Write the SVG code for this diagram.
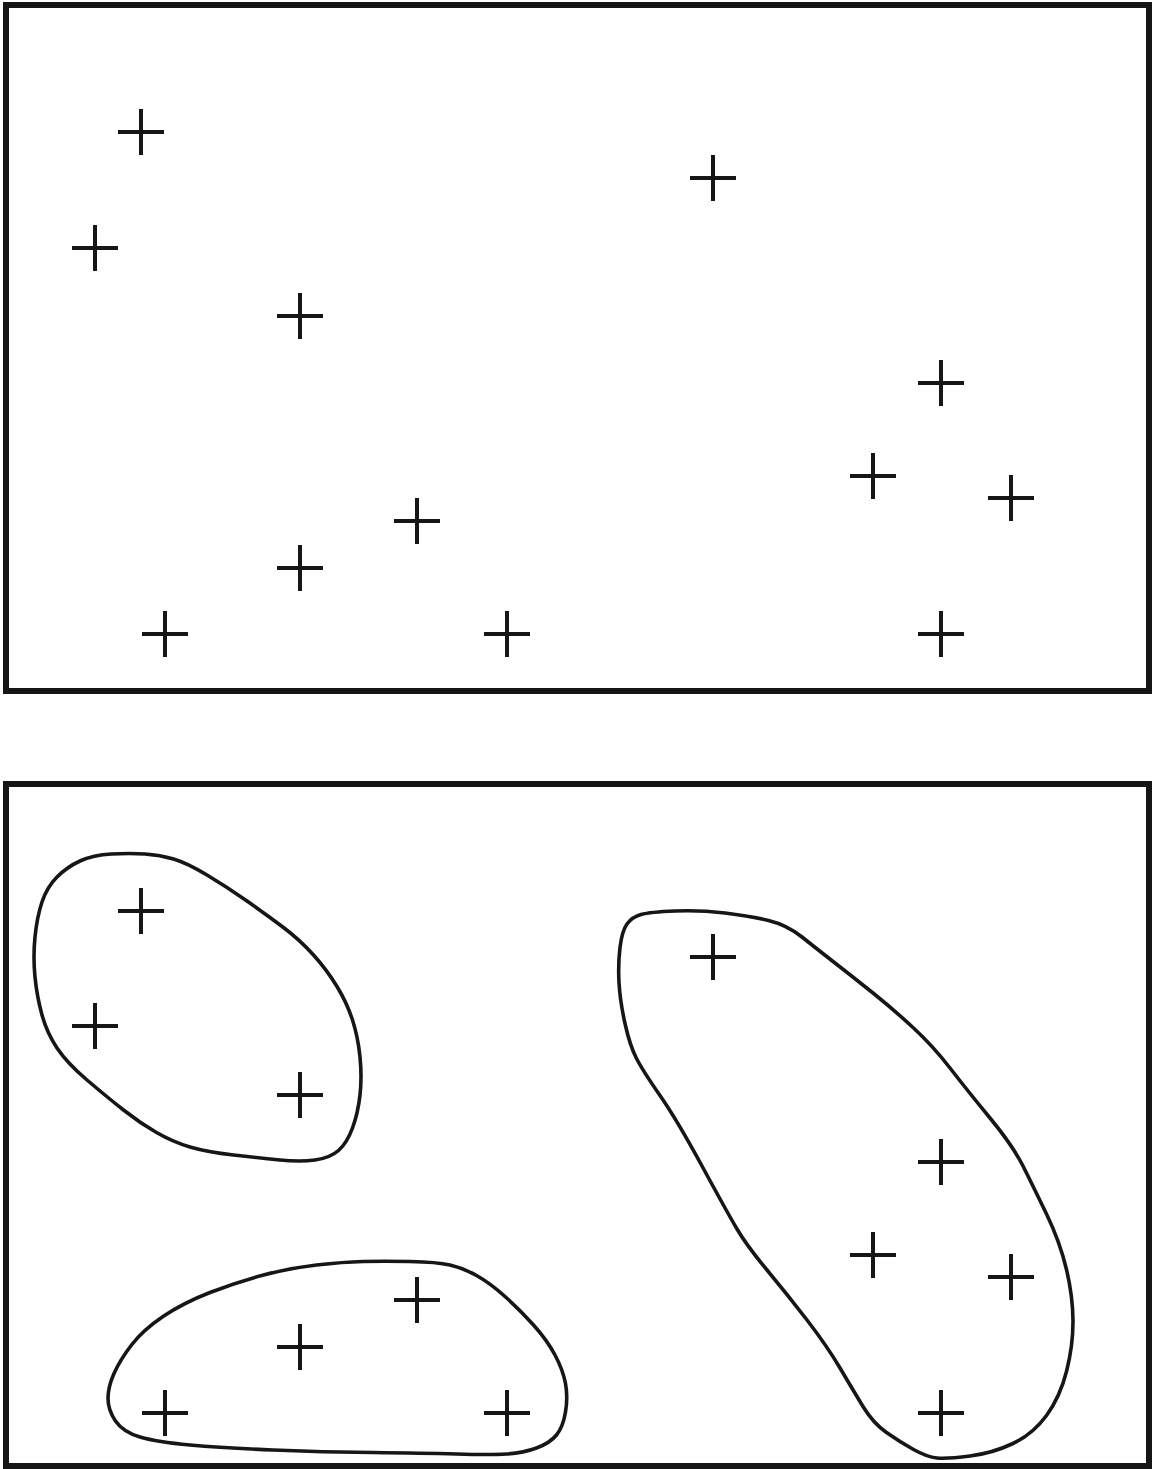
<svg xmlns="http://www.w3.org/2000/svg" xmlns:xlink="http://www.w3.org/1999/xlink" width="1152" height="1469" viewBox="0 0 1152 1469">
<style>
.frame{fill:none;stroke:#161616;stroke-width:6}
.blob{fill:none;stroke:#161616;stroke-width:3.6;stroke-linejoin:round}
.pl{fill:none;stroke:#161616;stroke-width:4}
</style>
<defs>
<path id="plus" class="pl" d="M-23,0H23M0,-23V23"/>
</defs>
<rect width="1152" height="1469" fill="#fff"/>
<g id="panel-top">
<rect class="frame" x="6" y="5" width="1143" height="686"/>
<g id="t1"><use xlink:href="#plus" x="141" y="132"/></g>
<g id="t2"><use xlink:href="#plus" x="95" y="248"/></g>
<g id="t3"><use xlink:href="#plus" x="300" y="316"/></g>
<g id="t4"><use xlink:href="#plus" x="713" y="178"/></g>
<g id="t5"><use xlink:href="#plus" x="941" y="383"/></g>
<g id="t6"><use xlink:href="#plus" x="873" y="476"/></g>
<g id="t7"><use xlink:href="#plus" x="1011" y="498"/></g>
<g id="t8"><use xlink:href="#plus" x="417" y="521"/></g>
<g id="t9"><use xlink:href="#plus" x="300" y="568"/></g>
<g id="t10"><use xlink:href="#plus" x="165" y="634"/></g>
<g id="t11"><use xlink:href="#plus" x="507" y="634"/></g>
<g id="t12"><use xlink:href="#plus" x="941" y="634"/></g>
</g>
<g id="panel-bottom">
<rect class="frame" x="6" y="784" width="1143" height="682"/>
<g id="cluster1">
<path class="blob" d="M145,854 Q160,855 173.5,859 Q187,863 207,875 Q227,887 247,901 Q267,915 283.5,927.5 Q300,940 313.5,955 Q327,970 337,986.5 Q347,1003 352.5,1020 Q358,1037 360,1057 Q362,1077 360,1095 Q358,1113 352.5,1128 Q347,1143 338.5,1150.5 Q330,1158 315,1160 Q300,1162 280,1160 Q260,1158 233.5,1155 Q207,1152 190,1147 Q173,1142 156.5,1132.5 Q140,1123 123.5,1110 Q107,1097 87,1080 Q67,1063 57,1048 Q47,1033 42,1015 Q37,997 35,977 Q33,957 35,937 Q37,917 42,902 Q47,887 57,877 Q67,867 80,861 Q93,855 111.5,854 Q130,853 145,854 Z"/>
<g id="b1"><use xlink:href="#plus" x="141" y="911"/></g>
<g id="b2"><use xlink:href="#plus" x="95" y="1026"/></g>
<g id="b3"><use xlink:href="#plus" x="300" y="1095"/></g>
</g>
<g id="cluster2">
<path class="blob" d="M410,1261.5 Q437,1262 450,1265 Q463,1268 476.5,1275.5 Q490,1283 505,1296.5 Q520,1310 533.5,1325 Q547,1340 555,1355 Q563,1370 565.5,1383.5 Q568,1397 565.5,1412 Q563,1427 556.5,1435 Q550,1443 536.5,1448 Q523,1453 506.5,1454 Q490,1455 456.5,1454 Q423,1453 373,1452.5 Q323,1452 273,1450 Q223,1448 190,1445 Q157,1442 140,1437 Q123,1432 115.5,1421 Q108,1410 108,1398.5 Q108,1387 114,1373.5 Q120,1360 131.5,1345 Q143,1330 163,1316.5 Q183,1303 210,1292.5 Q237,1282 263.5,1275 Q290,1268 316.5,1265 Q343,1262 363,1261.5 Q383,1261 410,1261.5 Z"/>
<g id="b8"><use xlink:href="#plus" x="417" y="1300"/></g>
<g id="b9"><use xlink:href="#plus" x="300" y="1347"/></g>
<g id="b10"><use xlink:href="#plus" x="165" y="1413"/></g>
<g id="b11"><use xlink:href="#plus" x="507" y="1413"/></g>
</g>
<g id="cluster3">
<path class="blob" d="M675,911 Q700,910 725,913 Q750,916 768.5,920.5 Q787,925 802,937 Q817,949 835,963 Q853,977 873,993 Q893,1009 913,1027.5 Q933,1046 950,1068 Q967,1090 990,1118 Q1013,1146 1023,1166 Q1033,1186 1046.5,1214 Q1060,1242 1066.5,1269.5 Q1073,1297 1073,1321.5 Q1073,1346 1066.5,1371.5 Q1060,1397 1046.5,1415.5 Q1033,1434 1013,1443.5 Q993,1453 970,1456 Q947,1459 937,1458 Q927,1457 913.5,1449.5 Q900,1442 886.5,1432.5 Q873,1423 863,1406.5 Q853,1390 840,1368 Q827,1346 807,1320 Q787,1294 767,1270 Q747,1246 737,1229 Q727,1212 702,1166 Q677,1120 660,1095.5 Q643,1071 636.5,1058.5 Q630,1046 625,1023.5 Q620,1001 619,982.5 Q618,964 620,947.5 Q622,931 627,924 Q632,917 641,914.5 Q650,912 675,911 Z"/>
<g id="b4"><use xlink:href="#plus" x="713" y="957"/></g>
<g id="b5"><use xlink:href="#plus" x="941" y="1162"/></g>
<g id="b6"><use xlink:href="#plus" x="873" y="1255"/></g>
<g id="b7"><use xlink:href="#plus" x="1011" y="1277"/></g>
<g id="b12"><use xlink:href="#plus" x="941" y="1413"/></g>
</g>
</g>
<g id="connectors"></g>
</svg>
